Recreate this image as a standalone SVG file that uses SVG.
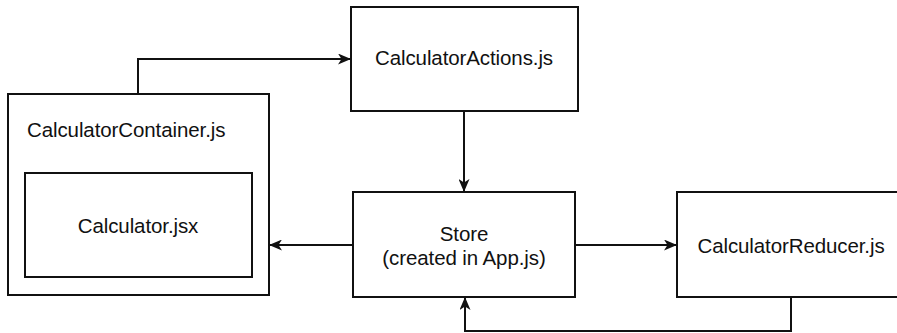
<svg xmlns="http://www.w3.org/2000/svg" width="897" height="333" viewBox="0 0 897 333">
<style>
.box{fill:#fff;stroke:#111;stroke-width:2}
.lbl{font-family:"Liberation Sans",Arial,sans-serif;font-size:20.5px;fill:#111;letter-spacing:-0.1px}
.c{text-anchor:middle}
.conn{fill:none;stroke:#111;stroke-width:2}
</style>
<defs>
<marker id="arr" viewBox="0 0 13 11" refX="12" refY="5.5" markerWidth="13" markerHeight="11" markerUnits="userSpaceOnUse" orient="auto">
<path d="M0,0 L13,5.5 L0,11 L3.5,5.5 Z" fill="#111"/>
</marker>
</defs>
<rect width="897" height="333" fill="#fff"/>
<g id="container">
<rect class="box" x="8" y="94" width="261" height="201"/>
<text class="lbl" x="27" y="137">CalculatorContainer.js</text>
</g>
<g id="calculator">
<rect class="box" x="25" y="173" width="227" height="104"/>
<text class="lbl c" x="138" y="233">Calculator.jsx</text>
</g>
<g id="actions">
<rect class="box" x="351" y="7" width="227" height="104"/>
<text class="lbl c" x="464" y="65">CalculatorActions.js</text>
</g>
<g id="store">
<rect class="box" x="353" y="192" width="222" height="105"/>
<text class="lbl c" x="464" y="241">Store</text>
<text class="lbl c" x="464" y="265">(created in App.js)</text>
</g>
<g id="reducer">
<rect class="box" x="677" y="192" width="230" height="105"/>
<text class="lbl c" x="791" y="253">CalculatorReducer.js</text>
</g>
<g id="connectors">
<path class="conn" d="M138,94 V59 H350" marker-end="url(#arr)"/>
<path class="conn" d="M464,111 V191" marker-end="url(#arr)"/>
<path class="conn" d="M353,245 H270" marker-end="url(#arr)"/>
<path class="conn" d="M575,245 H676" marker-end="url(#arr)"/>
<path class="conn" d="M791,297 V331 H465 V298" marker-end="url(#arr)"/>
</g>
</svg>
